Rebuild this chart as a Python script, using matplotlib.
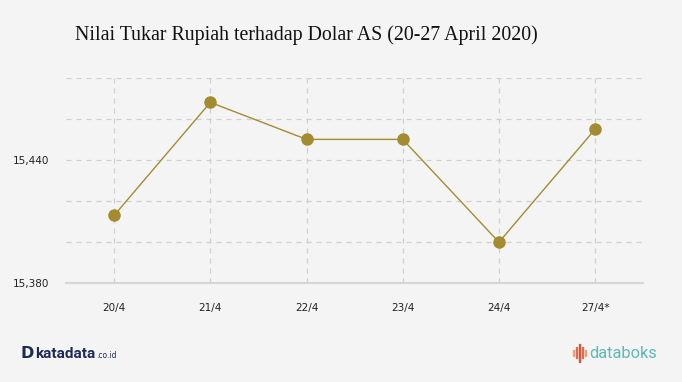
import matplotlib.pyplot as plt
from matplotlib.patches import Rectangle

# data
dates = ["20/4", "21/4", "22/4", "23/4", "24/4", "27/4*"]
kurs = [15413, 15468, 15450, 15450, 15400, 15455]
yticks = [15380, 15400, 15420, 15440, 15460, 15480]
ylabels = ["15,380", "", "", "15,440", "", ""]

bg = "#f4f4f4"
line_col = "#a38c30"

fig = plt.figure(figsize=(6.82, 3.82), dpi=100, facecolor=bg)
ax = fig.add_axes([66/682, 1-283.3/382, (643.3-66)/682, (283.3-77.7)/382])
ax.set_facecolor(bg)

x = list(range(len(dates)))
ax.plot(x, kurs, color=line_col, lw=1.0, marker="o", ms=8,
        markerfacecolor=line_col, markeredgecolor=line_col, zorder=3)

ax.set_xlim(-0.5, 5.5)
ax.set_ylim(15380, 15480)
ax.set_xticks(x)
ax.set_xticklabels(dates, fontsize=7.5, color="#222222")
ax.set_yticks(yticks)
ax.set_yticklabels(ylabels, fontsize=7.5, color="#222222")
ax.tick_params(length=0, pad=14)
ax.tick_params(axis="y", pad=12)

ax.grid(True, color="#cfcfcf", linestyle=(0, (4, 4)), lw=0.9)
for s in ["top", "right", "left"]:
    ax.spines[s].set_visible(False)
ax.spines["bottom"].set_color("#d6d6d6")
ax.spines["bottom"].set_linewidth(1.5)

fig.text(75/682, 1-35/382, "Nilai Tukar Rupiah terhadap Dolar AS (20-27 April 2020)",
         family="Liberation Serif", fontsize=14.3, color="#111111", va="center")

# logos
fig.text(20/682, 1-354/382, "D", fontsize=11.5, fontweight="bold", color="#1c2a5a",
         va="center", family="DejaVu Sans")
fig.text(35/682, 1-354/382, "katadata", fontsize=11, fontweight="bold", color="#1c2a5a",
         va="center", family="Roboto")
fig.text(96/682, 1-356/382, ".co.id", fontsize=5.5, color="#1c2a5a", va="center")
fig.text(589/682, 1-353/382, "databoks", fontsize=11.8, color="#5bbab6",
         va="center", family="Roboto")
bars = [(572.5, 350, 356, "#e8a07a"), (575.5, 347, 358, "#e26a4f"), (578.5, 344, 362, "#d9533d"),
        (581.5, 347, 358, "#e26a4f"), (584.5, 350, 356, "#e8a07a")]
for bx, y0, y1, c in bars:
    fig.patches.append(Rectangle((bx/682, 1-y1/382), 1.1/682, (y1-y0)/382,
                                 transform=fig.transFigure, color=c))

fig.savefig("out.png", dpi=100, facecolor=bg)
